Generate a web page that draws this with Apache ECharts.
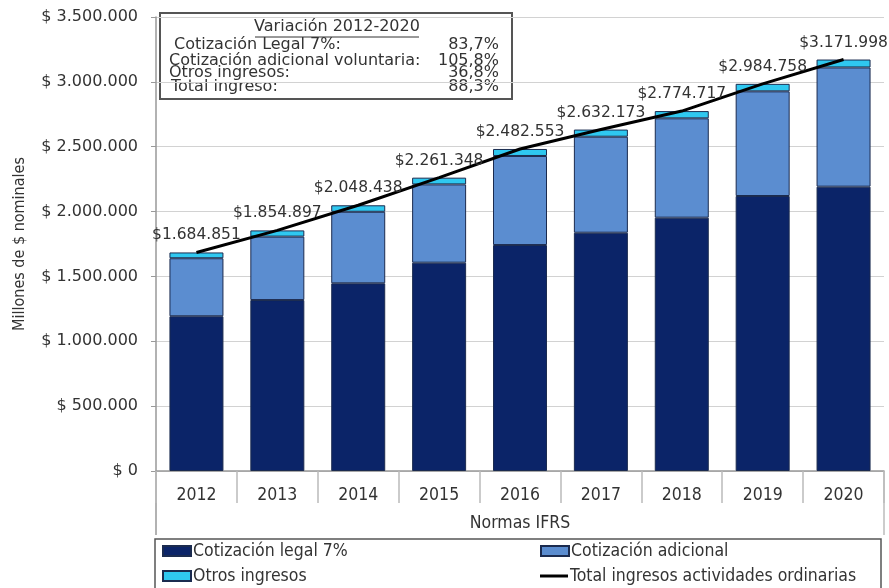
<!DOCTYPE html>
<html>
<head>
<meta charset="utf-8">
<script src="https://cdn.jsdelivr.net/npm/echarts@6/dist/echarts.min.js"></script>
<style>
  html, body { margin: 0; padding: 0; background: #fff; }
  #chart { width: 889px; height: 588px; }
</style>
</head>
<body>
<div id="chart"></div>
<script>
/* data (millones de $ nominales) */
var years = ['2012', '2013', '2014', '2015', '2016', '2017', '2018', '2019', '2020'];
var cotizacionLegal = [1193000, 1318000, 1447000, 1606000, 1742000, 1837000, 1953000, 2120000, 2192000];
var cotizacionAdicional = [447251, 488897, 551438, 603348, 686553, 740173, 765717, 806758, 918998];
var otrosIngresos = [44600, 48000, 50000, 52000, 54000, 55000, 56000, 58000, 61000];
var totalIngresos = [1684851, 1854897, 2048438, 2261348, 2482553, 2632173, 2774717, 2984758, 3171998];
var yTicks = { min: 0, max: 3500000, interval: 500000 };

var variacionRows = [
    ['Cotización Legal 7%:', '83,7%'],
    ['Cotización adicional voluntaria:', '105,8%'],
    ['Otros ingresos:', '36,8%'],
    ['Total ingreso:', '88,3%']
];

var narrow = "'DejaVu Sans Condensed', 'Liberation Sans Narrow', 'DejaVu Sans', sans-serif";
var wide = "'DejaVu Sans', Verdana, sans-serif";

function puntos(v) {
    return String(Math.round(v)).replace(/\B(?=(\d{3})+(?!\d))/g, '.');
}

var chart = echarts.init(document.getElementById('chart'));

// the little box with the 2012-2020 variation
var boxItems = [
    { type: 'rect', shape: { x: 160, y: 13, width: 352, height: 86 },
      style: { fill: '#fff', stroke: '#555', lineWidth: 2 } },
    { type: 'text', x: 337, y: 27,
      style: { text: 'Variación 2012-2020', font: '16px ' + wide, fill: '#333', align: 'center', verticalAlign: 'middle' } },
    { type: 'line', shape: { x1: 255, y1: 37, x2: 419, y2: 37 }, style: { stroke: '#333', lineWidth: 1 } }
];
var rowY = [45, 61, 73, 87];
var rowX = [174, 169, 169, 171];
variacionRows.forEach(function (r, i) {
    boxItems.push({ type: 'text', x: rowX[i], y: rowY[i],
        style: { text: r[0], font: '16px ' + wide, fill: '#333', verticalAlign: 'middle' } });
    boxItems.push({ type: 'text', x: 499, y: rowY[i],
        style: { text: r[1], font: '16px ' + wide, fill: '#333', align: 'right', verticalAlign: 'middle' } });
});

var barBorder = { borderColor: '#1b2b4f', borderWidth: 1 };

function legendAt(name, left, top, icon, h) {
    return {
        data: [{ name: name, icon: icon }], left: left, top: top,
        itemWidth: 28, itemHeight: h, itemGap: 2,
        textStyle: { fontFamily: narrow, fontSize: 17.5, color: '#333', padding: [0, 0, 0, -3] }
    };
}

var option = {
    animation: false,
    backgroundColor: '#fff',
    grid: { left: 156, right: 5, top: 17, bottom: 117 },
    legend: [
        legendAt('Cotización legal 7%', 157, 537, 'rect', 10),
        legendAt('Cotización adicional', 535, 537, 'rect', 10),
        legendAt('Otros ingresos', 157, 562, 'rect', 10),
        legendAt('Total ingresos actividades ordinarias', 535, 562, 'rect', 3)
    ],
    graphic: [
        { type: 'line', shape: { x1: 156, y1: 471, x2: 156, y2: 535 }, style: { stroke: '#999', lineWidth: 1.5 } },
        { type: 'line', shape: { x1: 884, y1: 471, x2: 884, y2: 535 }, style: { stroke: '#bbb', lineWidth: 1.5 } },
        { type: 'rect', shape: { x: 155, y: 539, width: 726, height: 54 },
          style: { fill: 'none', stroke: '#555', lineWidth: 1.5 } },
        { type: 'group', children: boxItems }
    ],
    xAxis: {
        type: 'category',
        data: years,
        name: 'Normas IFRS',
        nameLocation: 'middle',
        nameGap: 43,
        nameTextStyle: { fontFamily: narrow, fontSize: 17.5, color: '#333' },
        axisLine: { lineStyle: { color: '#999', width: 1.5 } },
        axisTick: { show: true, length: 32, interval: 0, lineStyle: { color: '#bbb', width: 1.5 } },
        axisLabel: { fontFamily: narrow, fontSize: 17.5, color: '#333', margin: 15, interval: 0 }
    },
    yAxis: {
        type: 'value',
        min: yTicks.min,
        max: yTicks.max,
        interval: yTicks.interval,
        name: 'Millones de $ nominales',
        nameLocation: 'middle',
        nameRotate: 90,
        nameGap: 128,
        nameTextStyle: { fontFamily: narrow, fontSize: 16, color: '#333' },
        axisLine: { show: true, lineStyle: { color: '#999', width: 1.5 } },
        axisTick: { show: true, length: 5, lineStyle: { color: '#999' } },
        axisLabel: {
            fontFamily: wide, fontSize: 16, color: '#333', margin: 18,
            formatter: function (v) { return '$ ' + puntos(v); }
        },
        splitLine: { lineStyle: { color: '#d2d2d2', width: 1 } }
    },
    series: [
        {
            name: 'Cotización legal 7%', type: 'bar', stack: 'ingresos',
            data: cotizacionLegal, barWidth: 54,
            itemStyle: Object.assign({ color: '#0b2468' }, barBorder)
        },
        {
            name: 'Cotización adicional', type: 'bar', stack: 'ingresos',
            data: cotizacionAdicional, barWidth: 54,
            itemStyle: Object.assign({ color: '#5b8dd0' }, barBorder)
        },
        {
            name: 'Otros ingresos', type: 'bar', stack: 'ingresos',
            data: otrosIngresos, barWidth: 54,
            itemStyle: Object.assign({ color: '#2fc8f0' }, barBorder)
        },
        {
            name: 'Total ingresos actividades ordinarias', type: 'line',
            data: totalIngresos,
            showSymbol: true, symbol: 'circle', symbolSize: 0.1,
            lineStyle: { color: '#000', width: 3 },
            itemStyle: { color: '#000' },
            label: {
                show: true, position: 'top', distance: 9,
                fontFamily: wide, fontSize: 15.5, color: '#333',
                formatter: function (p) { return '$' + puntos(p.value); }
            },
            labelLayout: { hideOverlap: false },
            z: 5
        }
    ]
};

chart.setOption(option);
</script>
</body>
</html>
